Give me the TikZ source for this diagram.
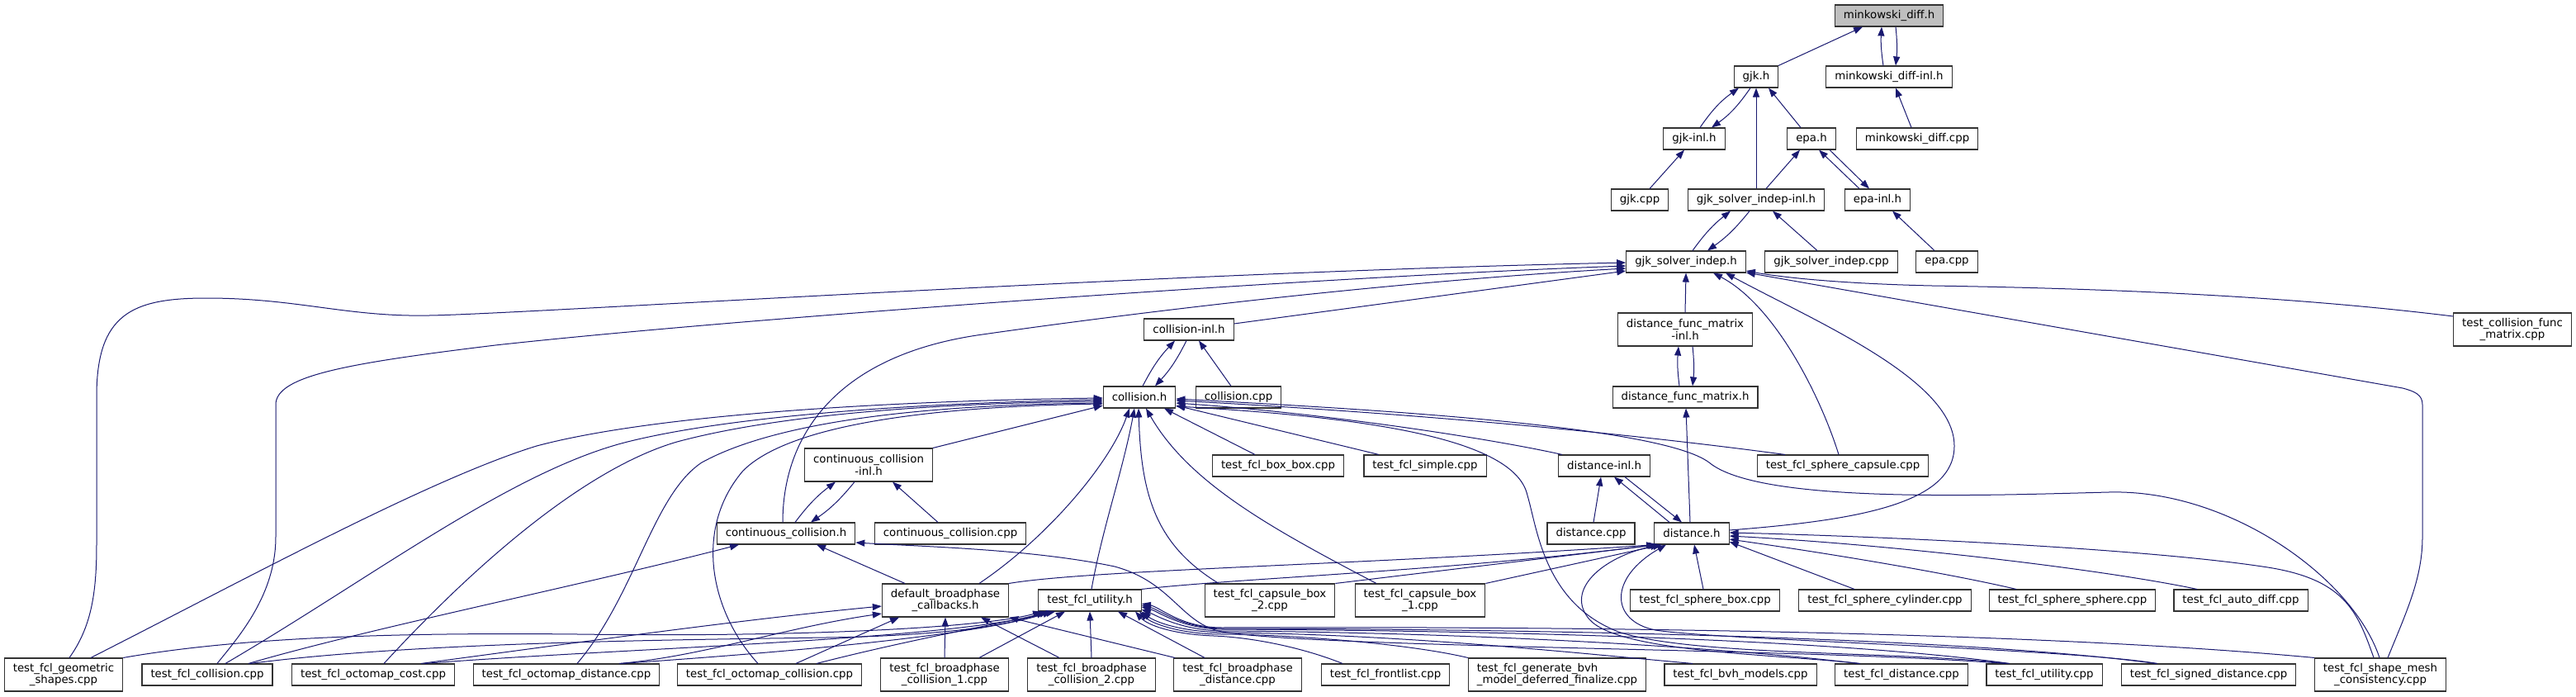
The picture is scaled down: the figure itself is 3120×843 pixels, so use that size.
\documentclass[tikz,border=0pt]{standalone}
\usepackage{fontspec}
\setmainfont{DejaVu Sans}
\usetikzlibrary{arrows.meta}
\definecolor{edgeblue}{HTML}{191970}
\newcommand\graphfont{\fontsize{13.33pt}{14.3pt}\selectfont}
\tikzset{
  filebox/.style={draw=black!80, line width=1.1pt, fill=white, font=\graphfont, inner xsep=10.5pt, inner ysep=3pt, minimum height=26pt, align=center},
  filebox2/.style={filebox, minimum height=40pt},
  dep/.style={draw=edgeblue, line width=1pt, -{Triangle[length=11pt,width=8pt]}},
}
\begin{document}
\begin{tikzpicture}[x=1pt,y=-1pt]
\fill[white] (0,0) rectangle (3120,843);
\useasboundingbox (0,0) rectangle (3120,843);

% ---------- nodes ----------
\node[filebox, fill=black!25] (mink) at (2288,19) {minkowski\_diff.h};
\node[filebox] (gjk) at (2127,93) {gjk.h};
\node[filebox] (minkinl) at (2288,93) {minkowski\_diff-inl.h};
\node[filebox] (gjkinl) at (2052,168) {gjk-inl.h};
\node[filebox] (epa) at (2194,168) {epa.h};
\node[filebox] (minkcpp) at (2322,168) {minkowski\_diff.cpp};
\node[filebox] (gjkcpp) at (1986,242) {gjk.cpp};
\node[filebox] (gsiinl) at (2127,242) {gjk\_solver\_indep-inl.h};
\node[filebox] (epainl) at (2274,242) {epa-inl.h};
\node[filebox] (gsi) at (2042,317) {gjk\_solver\_indep.h};
\node[filebox] (gsicpp) at (2218,317) {gjk\_solver\_indep.cpp};
\node[filebox] (epacpp) at (2358,317) {epa.cpp};
\node[filebox] (collinl) at (1440,399) {collision-inl.h};
\node[filebox2] (dfminl) at (2041,399) {distance\_func\_matrix\\-inl.h};
\node[filebox2] (tcfm) at (3043,399) {test\_collision\_func\\\_matrix.cpp};
\node[filebox] (coll) at (1380,481) {collision.h};
\node[filebox] (collcpp) at (1500,481) {collision.cpp};
\node[filebox] (dfm) at (2041,481) {distance\_func\_matrix.h};
\node[filebox2] (ccolinl) at (1052,563) {continuous\_collision\\-inl.h};
\node[filebox] (boxbox) at (1548,564) {test\_fcl\_box\_box.cpp};
\node[filebox] (simple) at (1726,564) {test\_fcl\_simple.cpp};
\node[filebox] (distinl) at (1943,564) {distance-inl.h};
\node[filebox] (sphcap) at (2232,564) {test\_fcl\_sphere\_capsule.cpp};
\node[filebox] (ccol) at (952,646) {continuous\_collision.h};
\node[filebox] (ccolcpp) at (1151,646) {continuous\_collision.cpp};
\node[filebox] (distcpp) at (1927,646) {distance.cpp};
\node[filebox] (dist) at (2049,646) {distance.h};
\node[filebox2] (dbc) at (1145,727) {default\_broadphase\\\_callbacks.h};
\node[filebox] (tfu) at (1320,727) {test\_fcl\_utility.h};
\node[filebox2] (capbox2) at (1538,727) {test\_fcl\_capsule\_box\\\_2.cpp};
\node[filebox2] (capbox1) at (1720,727) {test\_fcl\_capsule\_box\\\_1.cpp};
\node[filebox] (sphbox) at (2065,727) {test\_fcl\_sphere\_box.cpp};
\node[filebox] (sphcyl) at (2283,727) {test\_fcl\_sphere\_cylinder.cpp};
\node[filebox] (sphsph) at (2510,727) {test\_fcl\_sphere\_sphere.cpp};
\node[filebox] (autodiff) at (2714,727) {test\_fcl\_auto\_diff.cpp};
\node[filebox2] (geom) at (77,817) {test\_fcl\_geometric\\\_shapes.cpp};
\node[filebox] (tcoll) at (251,817) {test\_fcl\_collision.cpp};
\node[filebox] (ocost) at (452,817) {test\_fcl\_octomap\_cost.cpp};
\node[filebox] (odist) at (686,817) {test\_fcl\_octomap\_distance.cpp};
\node[filebox] (ocoll) at (932,817) {test\_fcl\_octomap\_collision.cpp};
\node[filebox2] (bpc1) at (1144,817) {test\_fcl\_broadphase\\\_collision\_1.cpp};
\node[filebox2] (bpc2) at (1322,817) {test\_fcl\_broadphase\\\_collision\_2.cpp};
\node[filebox2] (bpd) at (1499,817) {test\_fcl\_broadphase\\\_distance.cpp};
\node[filebox] (front) at (1678,817) {test\_fcl\_frontlist.cpp};
\node[filebox2, align=left] (genbvh) at (1886,817) {test\_fcl\_generate\_bvh\\\_model\_deferred\_finalize.cpp};
\node[filebox] (bvh) at (2108,817) {test\_fcl\_bvh\_models.cpp};
\node[filebox] (tdist) at (2303,817) {test\_fcl\_distance.cpp};
\node[filebox] (tfucpp) at (2476,817) {test\_fcl\_utility.cpp};
\node[filebox] (signed) at (2675,817) {test\_fcl\_signed\_distance.cpp};
\node[filebox2] (shapemesh) at (2883,817) {test\_fcl\_shape\_mesh\\\_consistency.cpp};

% ---------- top cluster ----------
\draw[dep] ([xshift=27pt]gjk.north) -- ([xshift=-32pt]mink.south);
\draw[dep] ([xshift=-7pt]minkinl.north) to[bend left=6] ([xshift=-9pt]mink.south);
\draw[dep] ([xshift=8pt]mink.south) to[bend left=6] ([xshift=8pt]minkinl.north);
\draw[dep] ([xshift=7pt]gjkinl.north) to[bend left=10] ([xshift=-21pt]gjk.south);
\draw[dep] ([xshift=-7pt]gjk.south) to[bend left=10] ([xshift=21pt]gjkinl.north);
\draw[dep] (gsiinl.north) -- (gjk.south);
\draw[dep] ([xshift=-13pt]epa.north) -- ([xshift=15pt]gjk.south);
\draw[dep] ([xshift=-7pt]minkcpp.north) -- ([xshift=8pt]minkinl.south);
\draw[dep] ([xshift=12pt]gjkcpp.north) -- ([xshift=-12pt]gjkinl.south);
\draw[dep] ([xshift=12pt]gsiinl.north) -- ([xshift=-14pt]epa.south);
\draw[dep] ([xshift=-22pt]epainl.north) -- ([xshift=9pt]epa.south);
\draw[dep] ([xshift=22pt]epa.south) -- ([xshift=-10pt]epainl.north);
\draw[dep] ([xshift=8pt]gsi.north) to[bend left=8] ([xshift=-31pt]gsiinl.south);
\draw[dep] ([xshift=-8pt]gsiinl.south) to[bend left=8] ([xshift=26pt]gsi.north);
\draw[dep] ([xshift=-17pt]gsicpp.north) -- ([xshift=20pt]gsiinl.south);
\draw[dep] ([xshift=-15pt]epacpp.north) -- ([xshift=18pt]epainl.south);

% ---------- into gjk_solver_indep.h ----------
\draw[dep] ([xshift=7pt]geom.north) .. controls (110,760) and (117,720) .. (117,660) -- (117,480)
  .. controls (117,380) and (160,361) .. (250,361) .. controls (360,361) and (420,384) .. (520,382)
  .. controls (640,380) and (1400,330) .. ([yshift=-1pt]gsi.west);
\draw[dep] ([xshift=12pt]tcoll.north) .. controls (290,770) and (334,720) .. (334,650) -- (334,490)
  .. controls (334,455) and (420,440) .. (600,418) .. controls (900,385) and (1600,335) .. ([yshift=-5pt]gsi.west);
\draw[dep] ([xshift=-4pt]ccol.north) .. controls (948,530) and (1010,430) .. (1190,405)
  .. controls (1400,375) and (1700,340) .. ([yshift=-8pt]gsi.west);
\draw[dep] ([yshift=7pt]collinl.east) -- ([yshift=-11pt]gsi.west);
\draw[dep] (dfminl.north) -- (gsi.south);
\draw[dep] ([xshift=-5pt]sphcap.north) .. controls (2205,480) and (2150,370) .. ([xshift=33pt]gsi.south);
\draw[dep] ([yshift=4pt]dist.east) .. controls (2250,630) and (2367,610) .. (2367,540)
  .. controls (2367,460) and (2200,390) .. ([xshift=48pt]gsi.south);
\draw[dep] ([yshift=16pt]tcfm.west) .. controls (2800,362) and (2600,350) .. (2340,346)
  .. controls (2250,344) and (2170,338) .. ([yshift=-11pt]gsi.east);
\draw[dep] ([xshift=9pt]shapemesh.north) .. controls (2915,740) and (2934,700) .. (2934,650) -- (2934,490)
  .. controls (2934,478) and (2925,474) .. (2910,470) -- ([yshift=-13pt]gsi.east);

% ---------- collision / distance_func_matrix cycles ----------
\draw[dep] ([xshift=4pt]coll.north) to[bend left=8] ([xshift=-17pt]collinl.south);
\draw[dep] ([xshift=-3pt]collinl.south) to[bend left=8] ([xshift=19pt]coll.north);
\draw[dep] ([xshift=-9pt]collcpp.north) -- ([xshift=12pt]collinl.south);
\draw[dep] ([xshift=-7pt]dfm.north) to[bend left=6] ([xshift=-8pt]dfminl.south);
\draw[dep] ([xshift=9pt]dfminl.south) to[bend left=6] ([xshift=9pt]dfm.north);
\draw[dep] ([xshift=-2pt]dist.north) -- ([xshift=1pt]dfm.south);

% ---------- into collision.h ----------
\draw[dep] (ccolinl.north east) -- ([yshift=-10pt]coll.west);
\draw[dep] ([xshift=33pt]geom.north) .. controls (300,700) and (520,580) .. (650,540)
  .. controls (800,500) and (1100,485) .. ([yshift=-1pt]coll.west);
\draw[dep] ([xshift=22pt]tcoll.north) .. controls (450,700) and (620,570) .. (760,535)
  .. controls (900,500) and (1150,487) .. ([yshift=-3pt]coll.west);
\draw[dep] ([xshift=13pt]ocost.north) .. controls (560,700) and (700,570) .. (820,535)
  .. controls (950,500) and (1150,488) .. ([yshift=-5pt]coll.west);
\draw[dep] ([xshift=13pt]odist.north) .. controls (770,720) and (790,600) .. (850,560)
  .. controls (950,505) and (1150,490) .. ([yshift=-7pt]coll.west);
\draw[dep] ([xshift=-14pt]ocoll.north) .. controls (860,740) and (840,640) .. (900,570)
  .. controls (960,510) and (1150,492) .. ([yshift=-8pt]coll.west);
\draw[dep] ([xshift=41pt]dbc.north) .. controls (1270,650) and (1345,560) .. ([xshift=-12pt]coll.south);
\draw[dep] ([xshift=2pt]tfu.north) .. controls (1335,640) and (1360,570) .. ([xshift=-6pt]coll.south);
\draw[dep] ([xshift=-62pt]capbox2.north) .. controls (1400,660) and (1382,600) .. ([xshift=-1pt]coll.south);
\draw[dep] ([xshift=-53pt]capbox1.north) .. controls (1540,640) and (1440,585) .. ([xshift=8pt]coll.south);
\draw[dep] ([xshift=-28pt]boxbox.north) -- ([xshift=30pt]coll.south);
\draw[dep] ([xshift=-56pt]simple.north) -- ([yshift=-10pt]coll.east);
\draw[dep] ([xshift=-51pt]distinl.north) .. controls (1800,530) and (1600,500) .. ([yshift=-7pt]coll.east);
\draw[dep] ([xshift=-70pt]sphcap.north) .. controls (1950,522) and (1700,500) .. ([yshift=-4pt]coll.east);
\draw[dep] ([xshift=-1pt]shapemesh.north) .. controls (2850,700) and (2700,592) .. (2554,596)
  .. controls (2400,600) and (2130,610) .. (2070,560) .. controls (2010,515) and (1650,495) .. ([yshift=-2pt]coll.east);
\draw[dep] ([xshift=-44pt]tfucpp.north) .. controls (2300,788) and (2050,795) .. (1960,765)
  .. controls (1870,730) and (1862,640) .. (1850,600) .. controls (1835,530) and (1650,505) .. ([yshift=-11pt]coll.east);

% ---------- continuous_collision ----------
\draw[dep] ([xshift=11pt]ccol.north) to[bend left=8] ([xshift=-40pt]ccolinl.south);
\draw[dep] ([xshift=-17pt]ccolinl.south) to[bend left=8] ([xshift=30pt]ccol.north);
\draw[dep] ([xshift=-15pt]ccolcpp.north) -- ([xshift=29pt]ccolinl.south);
\draw[dep] ([xshift=50pt]tcoll.north) .. controls (450,760) and (700,710) .. ([xshift=-57pt]ccol.south);
\draw[dep] ([xshift=-49pt]dbc.north) -- ([xshift=37pt]ccol.south);
\draw[dep] ([xshift=-48pt]tfucpp.north) .. controls (2200,785) and (1600,785) .. (1480,765)
  .. controls (1430,755) and (1420,705) .. (1350,686) .. controls (1250,665) and (1120,662) .. ([yshift=-11pt]ccol.east);

% ---------- distance ----------
\draw[dep] ([xshift=-27pt]dist.north) -- ([xshift=12pt]distinl.south);
\draw[dep] ([xshift=25pt]distinl.south) -- ([xshift=-12pt]dist.north);
\draw[dep] ([xshift=3pt]distcpp.north) -- ([xshift=-4pt]distinl.south);
\draw[dep] (dbc.north east) .. controls (1320,690) and (1650,684) .. ([xshift=-44pt]dist.south);
\draw[dep] (tfu.north east) .. controls (1500,700) and (1750,692) .. ([xshift=-43pt]dist.south);
\draw[dep] (capbox2.north east) -- ([xshift=-41pt]dist.south);
\draw[dep] (capbox1.north east) -- ([xshift=-36pt]dist.south);
\draw[dep] ([xshift=-2pt]sphbox.north) -- ([xshift=3pt]dist.south);
\draw[dep] ([xshift=-37pt]sphcyl.north) -- ([yshift=-10pt]dist.east);
\draw[dep] ([xshift=-68pt]sphsph.north) .. controls (2350,692) and (2200,668) .. ([yshift=-7pt]dist.east);
\draw[dep] ([xshift=-53pt]autodiff.north) .. controls (2550,690) and (2300,660) .. ([yshift=-3pt]dist.east);
\draw[dep] ([xshift=-8pt]shapemesh.north) .. controls (2855,740) and (2840,700) .. (2740,686)
  .. controls (2600,665) and (2300,650) .. ([yshift=1pt]dist.east);
\draw[dep] ([xshift=-50pt]tdist.north) .. controls (2150,792) and (1960,790) .. (1925,750)
  .. controls (1895,715) and (1940,675) .. ([xshift=-39pt]dist.south);
\draw[dep] ([xshift=-62pt]signed.north) .. controls (2500,785) and (2080,775) .. (2005,763)
  .. controls (1950,752) and (1948,700) .. ([xshift=-31pt]dist.south);

% ---------- default_broadphase_callbacks.h ----------
\draw[dep] ([xshift=58pt]ocost.north) .. controls (700,778) and (900,750) .. ([yshift=-7pt]dbc.west);
\draw[dep] ([xshift=64pt]odist.north) .. controls (850,795) and (950,760) .. ([yshift=-16pt]dbc.west);
\draw[dep] ([xshift=32pt]ocoll.north) -- ([xshift=-56pt]dbc.south);
\draw[dep] (bpc1.north) -- (dbc.south);
\draw[dep] ([xshift=-39pt]bpc2.north) -- ([xshift=43pt]dbc.south);
\draw[dep] ([xshift=-76pt]bpd.north) -- (dbc.south east);

% ---------- test_fcl_utility.h ----------
\draw[dep] (geom.north east) .. controls (300,770) and (500,766) .. (700,768)
  .. controls (1000,772) and (1200,758) .. ([xshift=-58pt]tfu.south);
\draw[dep] ([xshift=52pt]tcoll.north) .. controls (500,778) and (800,775) .. (1000,772)
  .. controls (1150,770) and (1230,755) .. ([xshift=-54pt]tfu.south);
\draw[dep] ([xshift=62pt]ocost.north) .. controls (750,785) and (1150,775) .. ([xshift=-50pt]tfu.south);
\draw[dep] ([xshift=66pt]odist.north) .. controls (950,790) and (1180,770) .. ([xshift=-46pt]tfu.south);
\draw[dep] ([xshift=57pt]ocoll.north) .. controls (1100,775) and (1210,755) .. ([xshift=-42pt]tfu.south);
\draw[dep] ([xshift=42pt]bpc1.north) -- ([xshift=-30pt]tfu.south);
\draw[dep] (bpc2.north) -- (tfu.south);
\draw[dep] ([xshift=-40pt]bpd.north) -- ([xshift=34pt]tfu.south);
\draw[dep] ([xshift=-52pt]front.north) .. controls (1580,785) and (1520,772) .. (1470,770)
  .. controls (1420,768) and (1390,757) .. ([xshift=55pt]tfu.south);
\draw[dep] (genbvh.north west) .. controls (1700,778) and (1550,768) .. (1480,768)
  .. controls (1430,768) and (1395,755) .. ([xshift=60pt]tfu.south);
\draw[dep] ([xshift=-58pt]bvh.north) .. controls (1900,790) and (1700,768) .. (1480,766)
  .. controls (1420,764) and (1395,750) .. (tfu.south east);
\draw[dep] ([xshift=-52pt]tdist.north) .. controls (2100,785) and (1800,766) .. (1480,764)
  .. controls (1430,763) and (1400,745) .. ([yshift=-11pt]tfu.east);
\draw[dep] ([xshift=-42pt]tfucpp.north) .. controls (2250,778) and (1900,764) .. (1480,762)
  .. controls (1430,761) and (1402,740) .. ([yshift=-8pt]tfu.east);
\draw[dep] ([xshift=-64pt]signed.north) .. controls (2400,775) and (1950,762) .. (1480,761)
  .. controls (1430,760) and (1404,738) .. ([yshift=-6pt]tfu.east);
\draw[dep] (shapemesh.north west) .. controls (2500,768) and (2000,758) .. (1480,760)
  .. controls (1430,760) and (1405,735) .. ([yshift=-4pt]tfu.east);

\end{tikzpicture}
\end{document}
